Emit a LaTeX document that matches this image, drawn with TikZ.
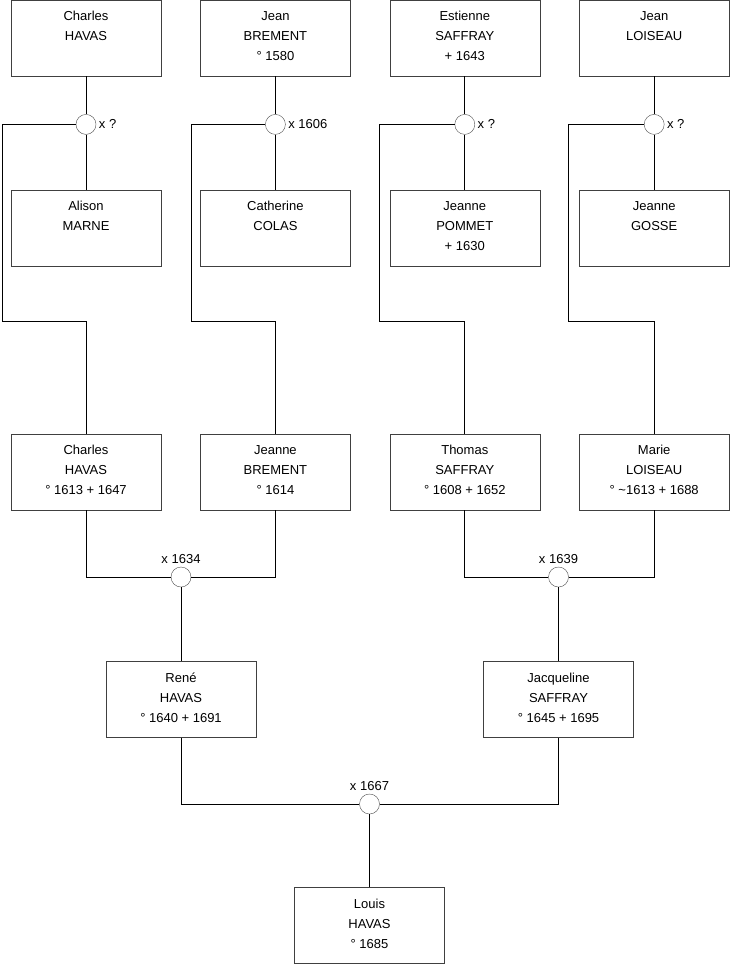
\documentclass[tikz,border=0pt]{standalone}
\usepackage{fontspec}
\setmainfont{Liberation Sans}
\usetikzlibrary{positioning}
\tikzset{
    person/.style={
        rectangle, minimum width=150pt, minimum height=76pt, inner sep=0pt,
        align=center, draw=black!75, fill=white, text depth=4pt,
        font=\fontsize{13}{20}\selectfont
    },
    wed/.style={
        circle, minimum size=20pt, inner sep=0pt, draw=black!70, fill=white
    },
    link/.style={draw=black, line width=0.8pt}
}
\begin{document}
\begin{tikzpicture}[x=1pt, y=-1pt,
    every label/.style={font=\fontsize{13}{15}\selectfont, inner sep=1pt},
    label distance=1.5pt]
    \useasboundingbox (0,0) rectangle (740,975);
    % top row
    \node (charles) [person] at (86,38) {Charles\\HAVAS\\~};
    \node (jeanb) [person, right=39pt of charles] {Jean\\BREMENT\\° 1580};
    \node (estienne) [person, right=39pt of jeanb] {Estienne\\SAFFRAY\\+ 1643};
    \node (jeanl) [person, right=39pt of estienne] {Jean\\LOISEAU\\~};
    % first weddings
    \node (wa) [wed, below=38pt of charles, label={right:x ?}] {};
    \node (wb) [wed, below=38pt of jeanb, label={right:x 1606}] {};
    \node (wc) [wed, below=38pt of estienne, label={right:x ?}] {};
    \node (wd) [wed, below=38pt of jeanl, label={right:x ?}] {};
    \node (alison) [person, below=55pt of wa] {Alison\\MARNE\\~};
    \node (catherine) [person, below=55pt of wb] {Catherine\\COLAS\\~};
    \node (jeannep) [person, below=55pt of wc] {Jeanne\\POMMET\\+ 1630};
    \node (jeanneg) [person, below=55pt of wd] {Jeanne\\GOSSE\\~};
    % children
    \node (charlesj) [person, below=168pt of alison] {Charles\\HAVAS\\° 1613 + 1647};
    \node (jeanneb) [person, below=168pt of catherine] {Jeanne\\BREMENT\\° 1614};
    \node (thomas) [person, below=168pt of jeannep] {Thomas\\SAFFRAY\\° 1608 + 1652};
    \node (marie) [person, below=168pt of jeanneg] {Marie\\LOISEAU\\° \textasciitilde1613 + 1688};
    \coordinate (ta) at (2,321);
    \coordinate (tb) at (191,321);
    \coordinate (tc) at (379,321);
    \coordinate (td) at (568,321);
    % second weddings
    \node (w1634) [wed, label={above:x 1634}] at (181,577) {};
    \node (w1639) [wed, label={above:x 1639}] at (558.5,577) {};
    \node (rene) [person, below=74pt of w1634] {René\\HAVAS\\° 1640 + 1691};
    \node (jacq) [person, below=74pt of w1639] {Jacqueline\\SAFFRAY\\° 1645 + 1695};
    \node (w1667) [wed, label={above:x 1667}] at (369.5,804) {};
    \node (louis) [person, below=73pt of w1667] {Louis\\HAVAS\\° 1685};
    % links
    \draw [link] (charles) -- (wa) -- (alison);
    \draw [link] (jeanb) -- (wb) -- (catherine);
    \draw [link] (estienne) -- (wc) -- (jeannep);
    \draw [link] (jeanl) -- (wd) -- (jeanneg);
    \draw [link] (wa) -| (ta) -| (charlesj);
    \draw [link] (wb) -| (tb) -| (jeanneb);
    \draw [link] (wc) -| (tc) -| (thomas);
    \draw [link] (wd) -| (td) -| (marie);
    \draw [link] (charlesj) |- (w1634) -| (jeanneb);
    \draw [link] (thomas) |- (w1639) -| (marie);
    \draw [link] (w1634) -- (rene);
    \draw [link] (w1639) -- (jacq);
    \draw [link] (rene) |- (w1667) -| (jacq);
    \draw [link] (w1667) -- (louis);
\end{tikzpicture}
\end{document}
